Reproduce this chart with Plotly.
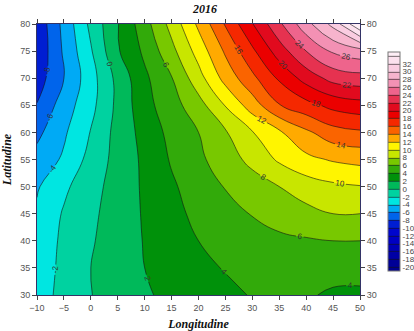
import plotly.graph_objects as go

# Grid of the field: longitude columns, latitude rows
lon = [-10, -5, 0, 5, 10, 15, 20, 25, 30, 35, 40, 45, 50]
lat = [30, 35, 40, 45, 50, 55, 60, 65, 70, 75, 80]

# values per latitude row (south to north), one entry per longitude
z_rows = [
    [-2.9, -1.4, -0.05, 0.8, 1.8, 2.4, 3.0, 3.6, 4.1, 4.3, 4.15, 3.8, 3.7],   # 30
    [-3.1, -1.5, 0.0, 1.0, 2.0, 2.8, 3.6, 4.1, 4.5, 4.7, 4.6, 4.5, 4.6],       # 35
    [-3.3, -1.6, -0.2, 1.0, 2.1, 3.0, 4.0, 4.7, 5.2, 5.6, 5.8, 6.0, 6.0],      # 40
    [-3.7, -1.8, -0.4, 0.9, 2.2, 3.4, 4.5, 5.3, 6.1, 6.8, 7.4, 8.0, 8.0],      # 45
    [-4.2, -2.4, -0.7, 0.8, 2.3, 3.7, 5.0, 6.1, 7.0, 8.0, 9.0, 9.6, 9.9],      # 50
    [-5.3, -3.7, -1.3, 0.7, 2.4, 4.2, 5.6, 7.0, 8.6, 10.3, 11.5, 12.2, 12.6],  # 55
    [-6.5, -4.3, -1.9, 0.7, 2.7, 4.6, 6.0, 7.8, 9.9, 11.7, 13.6, 15.2, 15.7],  # 60
    [-7.9, -5.0, -2.6, 0.5, 3.3, 5.2, 7.2, 10.1, 13.0, 15.9, 17.3, 18.6, 19.2],  # 65
    [-9.0, -6.0, -2.8, 0.6, 3.6, 5.9, 9.2, 12.7, 15.5, 18.3, 20.8, 22.7, 23.2],  # 70
    [-9.6, -5.7, -2.2, 1.8, 4.4, 7.4, 10.8, 14.3, 17.6, 21.0, 24.0, 26.3, 27.2],  # 75
    [-9.5, -5.4, -1.5, 1.9, 5.2, 8.7, 12.4, 16.2, 19.9, 23.6, 27.3, 30.6, 36.0],  # 80
]

# contour levels and the fill colour of each band (below -20, -20..-18, ..., 34+)
level_start, level_end, level_step = -20, 34, 2
band_colors = [
    "rgb(0,0,140)",
    "rgb(0,0,150)", "rgb(0,0,165)", "rgb(0,0,180)", "rgb(0,0,195)", "rgb(0,5,205)",
    "rgb(0,30,210)", "rgb(0,100,235)", "rgb(0,170,245)", "rgb(0,230,225)", "rgb(0,210,160)",
    "rgb(0,185,90)", "rgb(0,145,10)", "rgb(50,170,10)", "rgb(120,200,0)", "rgb(200,230,0)",
    "rgb(255,245,0)", "rgb(255,170,0)", "rgb(250,100,0)", "rgb(245,40,0)", "rgb(235,0,0)",
    "rgb(225,10,30)", "rgb(230,50,80)", "rgb(238,100,140)", "rgb(243,145,180)", "rgb(247,180,205)",
    "rgb(250,205,225)", "rgb(252,225,238)", "rgb(254,238,246)",
]
colorscale = [[i / (len(band_colors) - 1), c] for i, c in enumerate(band_colors)]

bar_ticks = list(range(-20, 33, 2))
lon_ticks = list(range(-10, 51, 5))
lat_ticks = list(range(30, 81, 5))

fig = go.Figure()
fig.add_trace(go.Contour(
    x=lon, y=lat, z=z_rows,
    colorscale=colorscale,
    autocontour=False,
    contours=dict(start=level_start, end=level_end, size=level_step,
                  coloring="fill", showlines=True, showlabels=True,
                  labelfont=dict(size=8, color="#333", family="Liberation Sans")),
    line=dict(color="rgba(20,20,20,0.85)", width=0.7, smoothing=1.3),
    colorbar=dict(
        x=1.087, xanchor="left", xref="paper",
        y=0.4926, yanchor="middle", len=0.808, lenmode="fraction",
        thickness=12, outlinewidth=1, outlinecolor="#777",
        tickvals=bar_ticks, ticktext=[str(t) for t in bar_ticks],
        ticks="", tickfont=dict(size=8, color="#444", family="Liberation Sans"),
        ypad=0, xpad=0,
    ),
))
# empty trace carrying the right-hand latitude axis
fig.add_trace(go.Scatter(x=[None], y=[None], yaxis="y2", showlegend=False, hoverinfo="skip"))

axis_font = dict(size=9, color="#555", family="Liberation Sans")
fig.update_layout(
    width=414, height=331,
    margin=dict(l=37, r=54, t=24, b=36, autoexpand=False),
    paper_bgcolor="white", plot_bgcolor="white",
    showlegend=False,
    title=dict(text="<b><i>2016</i></b>", x=0.52, xref="paper", y=0.985, yanchor="top",
               font=dict(size=12, family="Liberation Serif", color="#111")),
    xaxis=dict(range=[-10, 50], tickvals=lon_ticks, ticks="outside", ticklen=4,
               tickcolor="#444", showline=True, linecolor="#336", linewidth=1,
               mirror="ticks", showgrid=False, zeroline=False, tickfont=axis_font,
               automargin=False,
               title=dict(text="<b><i>Longitudine</i></b>", standoff=8,
                          font=dict(size=12, family="Liberation Serif", color="#111"))),
    yaxis=dict(range=[30, 80], tickvals=lat_ticks, ticks="outside", ticklen=4,
               tickcolor="#444", showline=True, linecolor="#336", linewidth=1,
               mirror=True, showgrid=False, zeroline=False, tickfont=axis_font,
               automargin=False,
               title=dict(text="<b><i>Latitudine</i></b>", standoff=6,
                          font=dict(size=12, family="Liberation Serif", color="#111"))),
    yaxis2=dict(range=[30, 80], tickvals=lat_ticks, ticks="outside", ticklen=4,
                tickcolor="#444", overlaying="y", side="right", showgrid=False,
                zeroline=False, tickfont=axis_font, showline=False, automargin=False),
)

fig.write_html("out.html")
